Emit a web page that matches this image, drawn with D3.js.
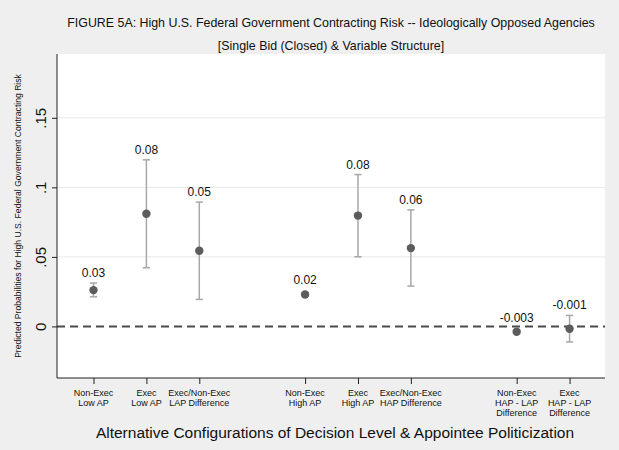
<!DOCTYPE html>
<html><head><meta charset="utf-8">
<script src="https://cdn.jsdelivr.net/npm/d3@7"></script>
<style>body{margin:0;background:#efefef}svg{display:block}text{font-family:"Liberation Sans",Arial,sans-serif}</style>
</head><body><svg id="c" width="619" height="450"></svg>
<script>
const positions = [1, 2, 3, 5, 6, 7, 9, 10];
const categoryLabels = [
  ["Non-Exec", "Low AP"],
  ["Exec", "Low AP"],
  ["Exec/Non-Exec", "LAP Difference"],
  ["Non-Exec", "High AP"],
  ["Exec", "High AP"],
  ["Exec/Non-Exec", "HAP Difference"],
  ["Non-Exec", "HAP - LAP", "Difference"],
  ["Exec", "HAP - LAP", "Difference"]
];
const estimates = [0.0261, 0.0810, 0.0544, 0.0230, 0.0797, 0.0563, -0.0038, -0.0017];
const lowerCI = [0.0213, 0.0422, 0.0194, 0.0218, 0.0501, 0.0290, -0.0048, -0.0112];
const upperCI = [0.0312, 0.1198, 0.0894, 0.0242, 0.1092, 0.0838, -0.0028, 0.0079];
const valueLabels = ["0.03", "0.08", "0.05", "0.02", "0.08", "0.06", "-0.003", "-0.001"];
const yTicks = [0, 0.05, 0.1, 0.15];
const yTickLabels = ["0", ".05", ".1", ".15"];
const titleLines = ["FIGURE 5A: High U.S. Federal Government Contracting Risk -- Ideologically Opposed Agencies",
                    "[Single Bid (Closed) & Variable Structure]"];
const yTitle = "Predicted Probabilities for High U.S. Federal Government Contracting Risk";
const xTitle = "Alternative Configurations of Decision Level & Appointee Politicization";

const svg = d3.select("#c");
const L = 57, R = 605, T = 54, B = 378;
svg.append("rect").attr("width", 619).attr("height", 450).attr("fill", "#efefef");
svg.append("rect").attr("x", L).attr("y", T).attr("width", R - L).attr("height", B - T).attr("fill", "#fff");

const x = d3.scaleLinear().domain([0.31, 10.67]).range([L, R]);
const y = d3.scaleLinear().domain([-0.0371, 0.1959]).range([B, T]);

// gridlines
svg.append("g").selectAll("line").data(yTicks.filter(d => d !== 0)).join("line")
  .attr("x1", L).attr("x2", R).attr("y1", d => y(d)).attr("y2", d => y(d))
  .attr("stroke", "#e8e8e8").attr("stroke-width", 1);

// zero dashed line
svg.append("line").attr("x1", L).attr("x2", R).attr("y1", y(0)).attr("y2", y(0))
  .attr("stroke", "#4a4a4a").attr("stroke-width", 2).attr("stroke-dasharray", "8,5");

// y axis
const yAxis = d3.axisLeft(y).tickValues(yTicks).tickFormat((d, i) => yTickLabels[i]).tickSize(5).tickPadding(4);
const gy = svg.append("g").attr("transform", `translate(${L},0)`).call(yAxis);
gy.select(".domain").attr("d", `M0,${T}V${B}`).attr("stroke", "#222");
gy.selectAll(".tick line").attr("stroke", "#222");
gy.selectAll(".tick text").attr("font-size", 15).attr("fill", "#111")
  .attr("text-anchor", "middle").attr("dy", 0)
  .attr("transform", "translate(-15,0) rotate(-90)")
  .attr("x", 0).attr("y", 0).attr("dominant-baseline", "middle");

// x axis
const xAxis = d3.axisBottom(x).tickValues(positions).tickFormat("").tickSize(6);
const gx = svg.append("g").attr("transform", `translate(0,${B})`).call(xAxis);
gx.select(".domain").attr("d", `M${L},0H${R}`).attr("stroke", "#222");
gx.selectAll(".tick line").attr("stroke", "#222");

// category labels (one text per line)
const catG = svg.append("g");
positions.forEach((p, i) => {
  categoryLabels[i].forEach((t, j) => {
    catG.append("text").attr("x", x(p)).attr("y", 396 + j * 10.2)
      .attr("text-anchor", "middle").attr("font-size", 9).attr("fill", "#111").text(t);
  });
});

// CIs
const ci = svg.append("g");
positions.forEach((p, i) => {
  const cx = x(p);
  ci.append("line").attr("x1", cx).attr("x2", cx).attr("y1", y(lowerCI[i])).attr("y2", y(upperCI[i]))
    .attr("stroke", "#a8a8a8").attr("stroke-width", 1.5);
  [lowerCI[i], upperCI[i]].forEach(v => {
    ci.append("line").attr("x1", cx - 3.6).attr("x2", cx + 3.6).attr("y1", y(v)).attr("y2", y(v))
      .attr("stroke", "#a8a8a8").attr("stroke-width", 1.5);
  });
});

// markers
svg.append("g").selectAll("circle").data(positions).join("circle")
  .attr("cx", d => x(d)).attr("cy", (d, i) => y(estimates[i])).attr("r", 4.2)
  .attr("fill", "#5c5c5c");

// value labels
svg.append("g").selectAll("text").data(positions).join("text")
  .attr("x", d => x(d))
  .attr("y", (d, i) => Math.min(y(upperCI[i]), y(estimates[i]) - 4) - 6)
  .attr("text-anchor", "middle").attr("font-size", 12).attr("fill", "#111")
  .text((d, i) => valueLabels[i]);

// titles
svg.append("text").attr("x", (L + R) / 2).attr("y", 27).attr("text-anchor", "middle")
  .attr("font-size", 12.4).attr("fill", "#111").text(titleLines[0]);
svg.append("text").attr("x", (L + R) / 2).attr("y", 50).attr("text-anchor", "middle")
  .attr("font-size", 12.4).attr("fill", "#111").text(titleLines[1]);
svg.append("text").attr("transform", `translate(21,${(T + B) / 2}) rotate(-90)`)
  .attr("text-anchor", "middle").attr("font-size", 8.6).attr("fill", "#111").text(yTitle);
svg.append("text").attr("x", (L + R) / 2 + 4).attr("y", 438).attr("text-anchor", "middle")
  .attr("font-size", 15.5).attr("fill", "#111").text(xTitle);
</script></body></html>
